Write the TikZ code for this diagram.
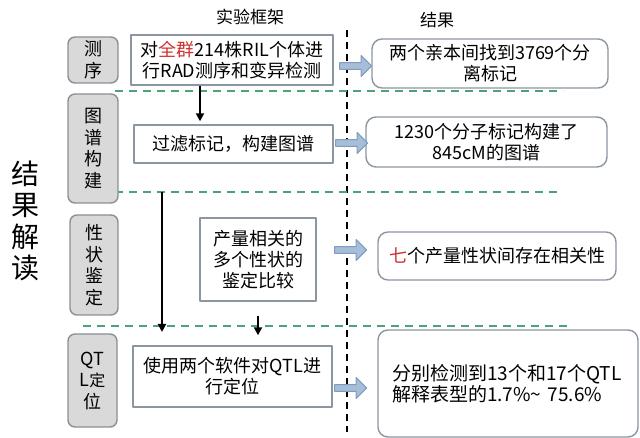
\documentclass[tikz,border=0pt]{standalone}
\usepackage{fontspec}
\setmainfont{Noto Sans CJK SC}
\usetikzlibrary{arrows.meta, calc, shapes.arrows}
\definecolor{stagefill}{HTML}{D9D9D9}
\definecolor{stageline}{HTML}{8A9098}
\definecolor{boxline}{HTML}{8C96A0}
\definecolor{sepgreen}{HTML}{4AA37A}
\definecolor{arrowfill}{HTML}{A7BED9}
\definecolor{arrowline}{HTML}{7F9CC0}
\definecolor{hilite}{HTML}{D03030}
\tikzset{
	stage/.style={draw=stageline, fill=stagefill, line width=1.4pt, rounded corners=7pt,
		align=center, inner sep=0pt, font=\fontsize{18}{21.5}\selectfont},
	procbox/.style={draw=boxline, fill=white, line width=1.4pt, align=center, inner sep=0pt,
		font=\fontsize{18}{21}\selectfont},
	resbox/.style={draw=boxline, fill=white, line width=1.4pt, rounded corners=10pt,
		align=center, inner sep=0pt, font=\fontsize{18}{21}\selectfont},
	blockarrow/.style={single arrow, draw=arrowline, fill=arrowfill, line width=1pt,
		minimum height=32pt, minimum width=21pt, single arrow head extend=5.5pt,
		single arrow head indent=0pt, inner sep=2pt},
	sep/.style={sepgreen, line width=1.3pt, dash pattern=on 8pt off 6pt},
	flow/.style={line width=1.8pt, -{Triangle[length=8pt,width=8pt]}}
}

\begin{document}
\begin{tikzpicture}[x=1pt, y=-1pt, line join=round]
	\useasboundingbox (0,0) rectangle (640,438);
	
	% ===== Column titles and the vertical divider =====
	\node[font=\fontsize{17}{17}\selectfont] (title left) at (250,17) {实验框架};
	\node[font=\fontsize{17}{17}\selectfont] (title right) at (437,20) {结果};
	\coordinate (div top) at (347,30);
	\coordinate (div end) at (347,432);
	\draw[line width=1.8pt, dash pattern=on 7pt off 5pt] (div top) -- (div end);
	
	% side caption
	\node[font=\fontsize{28}{31.5}\selectfont, align=center] (caption) at (25,221) {结\\果\\解\\读};
	
	% ===== Green separators between the stages =====
	\draw[sep] (115,91) -- (563,91);
	\draw[sep] (115,192) -- (562,192);
	\draw[sep] (83,326) -- (570,326);
	
	% ===== Left: stages and experiment boxes =====
	\node[stage, minimum width=50pt, minimum height=46pt] (seq) at (93,60) {测\\序};
	\node[stage, minimum width=50pt, minimum height=109pt] (map) at (93,148.5) {图\\谱\\构\\建};
	\node[stage, minimum width=48pt, minimum height=100pt] (trait) at (94,265) {性\\状\\鉴\\定};
	\node[stage, minimum width=49pt, minimum height=93pt] (qtl) at (92.5,380.5) {QT\\L{\fontsize{16}{16}\selectfont 定}\\位};
	
	\node[procbox, minimum width=202pt, minimum height=50pt] (box seq) at (232,60)
	{对\textcolor{hilite}{全群}214株RIL个体进\\行RAD测序和变异检测};
	\node[procbox, minimum width=199pt, minimum height=38pt] (box map) at (233.5,144)
	{过滤标记，构建图谱};
	\node[procbox, minimum width=116pt, minimum height=83pt] (box trait) at (258,259.5)
	{产量相关的\\多个性状的\\鉴定比较};
	\node[procbox, minimum width=199pt, minimum height=61pt] (box qtl) at (232.5,376.5)
	{使用两个软件对QTL进\\行定位};
	
	% flow arrows
	\coordinate (flow x) at (200,0);
	\draw[flow] (box seq.south -| flow x) -- ([yshift=3pt]box map.north -| flow x);
	\coordinate (trunk top) at (162,192);
	\coordinate (trunk end) at (162,332);
	\draw[flow] (trunk top) -- (trunk end);
	\draw[flow] ([yshift=-14pt]box trait.south) -- ([yshift=10pt]box qtl.north -| box trait.south);
	
	% ===== Right: results =====
	\node[resbox, minimum width=236pt, minimum height=49pt] (res seq) at (490,63.5)
	{两个亲本间找到3769个分\\离标记};
	\node[resbox, minimum width=241pt, minimum height=50pt] (res map) at (486.5,142)
	{1230个分子标记构建了\\845cM的图谱};
	\node[resbox, minimum width=238pt, minimum height=48pt] (res trait) at (497,256)
	{\textcolor{hilite}{七}个产量性状间存在相关性};
	\node[resbox, minimum width=260pt, minimum height=107pt, align=left, text width=232pt,
		font=\fontsize{19}{21}\selectfont] (res qtl) at (508,383.5)
	{分别检测到13个和17个QTL\\解释表型的1.7\%\textasciitilde{} 75.6\%};
	
	% block arrows between the columns
	\node[blockarrow] (arr seq) at (354,66) {};
	\node[blockarrow] (arr map) at (350,143) {};
	\node[blockarrow] (arr trait) at (349,250) {};
	\node[blockarrow] (arr qtl) at (349,388) {};
	
\end{tikzpicture}
\end{document}
